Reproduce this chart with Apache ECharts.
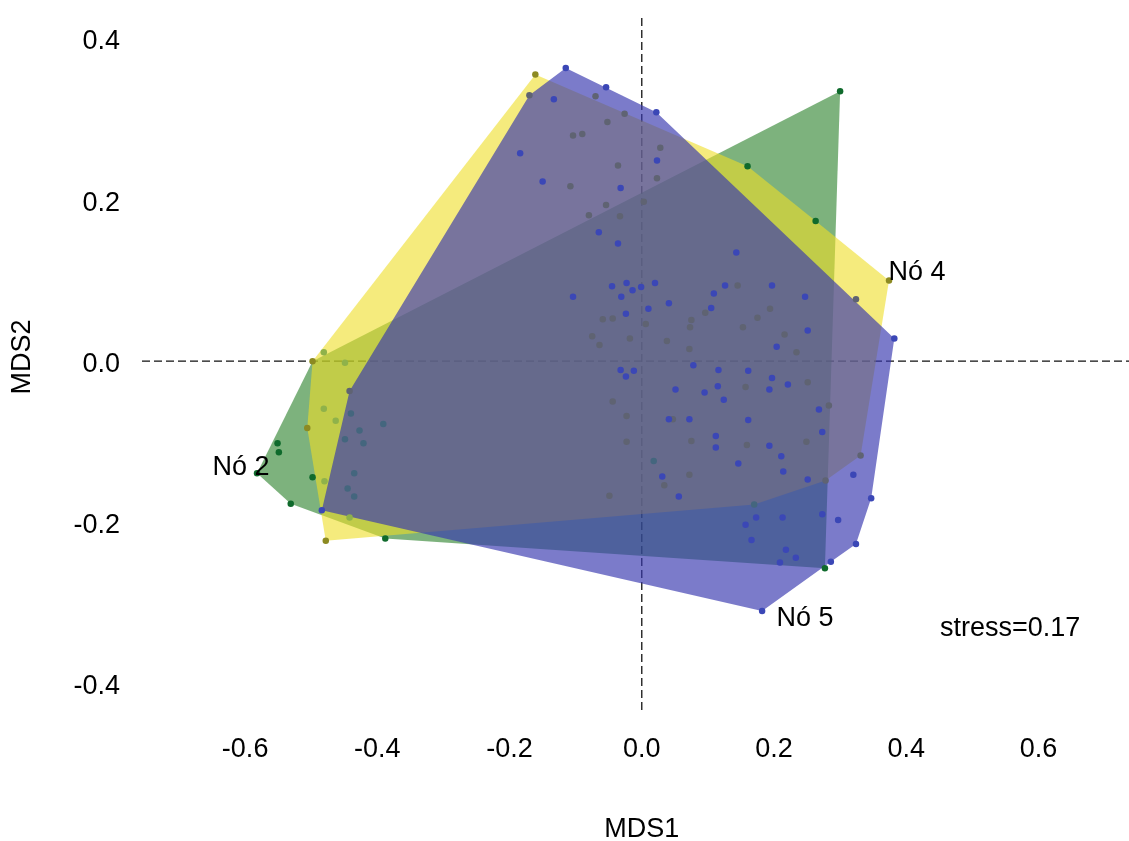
<!DOCTYPE html>
<html><head><meta charset="utf-8">
<script src="https://cdn.jsdelivr.net/npm/echarts@6/dist/echarts.min.js"></script>
<style>html,body{margin:0;padding:0;background:#fff}#c{width:1129px;height:841px}</style>
</head><body><div id="c"></div>
<script>
// ---- axes ----
const xTicks = [-0.6, -0.4, -0.2, 0.0, 0.2, 0.4, 0.6];
const yTicks = [-0.4, -0.2, 0.0, 0.2, 0.4];
const xRange = [-0.756, 0.737];
const yRange = [-0.433, 0.426];
const xTitle = 'MDS1';
const yTitle = 'MDS2';
const stressText = 'stress=0.17';

// ---- groups (hull vertices, MDS1/MDS2) ----
const groupNames = ['Nó 2', 'Nó 4', 'Nó 5'];
const hullNo2 = [[0.300,0.335],[-0.498,0.000],[-0.582,-0.139],[-0.531,-0.177],[-0.388,-0.220],[0.277,-0.257]];
const hullNo4 = [[-0.161,0.356],[0.160,0.242],[0.263,0.174],[0.374,0.100],[0.331,-0.117],[0.278,-0.148],[0.170,-0.178],[-0.478,-0.223],[-0.506,-0.083],[-0.498,0.000]];
const hullNo5 = [[-0.115,0.364],[0.022,0.309],[0.382,0.028],[0.347,-0.170],[0.324,-0.227],[0.286,-0.249],[0.182,-0.310],[-0.484,-0.185],[-0.442,-0.037],[-0.170,0.330]];
const labelAnchors = [[-0.582,-0.139],[0.374,0.100],[0.182,-0.310]];

// ---- sample points (by plotted colour) ----
const ptsBlue = [[-0.115,0.364],[-0.133,0.325],[-0.054,0.340],[0.022,0.309],[-0.184,0.258],[0.023,0.249],[-0.150,0.223],[-0.032,0.215],[-0.065,0.160],[-0.036,0.146],[0.143,0.135],[-0.045,0.093],[-0.023,0.097],[-0.014,0.088],[-0.001,0.092],[0.020,0.097],[0.109,0.084],[0.126,0.094],[0.197,0.094],[-0.104,0.080],[-0.031,0.080],[-0.024,0.059],[0.010,0.065],[0.041,0.072],[0.105,0.066],[0.204,0.018],[-0.032,-0.011],[-0.024,-0.019],[-0.012,-0.012],[0.078,-0.005],[0.116,-0.011],[0.161,-0.012],[0.197,-0.021],[0.051,-0.035],[0.095,-0.039],[0.115,-0.031],[0.193,-0.035],[0.124,-0.048],[0.041,-0.072],[0.072,-0.072],[0.161,-0.073],[0.112,-0.093],[0.112,-0.107],[0.193,-0.105],[0.146,-0.127],[0.031,-0.143],[0.056,-0.168],[0.173,-0.194],[0.157,-0.203],[0.166,-0.222],[0.247,0.080],[0.251,0.038],[0.382,0.028],[0.221,-0.029],[0.268,-0.060],[0.273,-0.088],[0.211,-0.118],[0.214,-0.137],[0.251,-0.147],[0.320,-0.141],[0.347,-0.170],[0.213,-0.194],[0.273,-0.190],[0.297,-0.197],[0.218,-0.234],[0.233,-0.244],[0.209,-0.250],[0.324,-0.227],[0.286,-0.249],[-0.484,-0.185],[0.182,-0.310]];
const ptsGray = [[-0.170,0.330],[-0.070,0.329],[-0.026,0.307],[-0.052,0.297],[-0.104,0.280],[-0.090,0.282],[0.028,0.265],[-0.036,0.243],[0.023,0.227],[-0.108,0.217],[0.003,0.198],[-0.054,0.194],[-0.080,0.181],[-0.033,0.180],[0.145,0.094],[-0.059,0.052],[-0.044,0.053],[0.006,0.046],[0.075,0.051],[0.073,0.042],[0.096,0.060],[0.175,0.054],[0.194,0.065],[0.153,0.042],[-0.075,0.031],[-0.064,0.020],[-0.018,0.028],[0.038,0.025],[0.072,0.015],[0.157,-0.032],[-0.044,-0.050],[-0.023,-0.068],[0.047,-0.072],[-0.023,-0.100],[0.075,-0.099],[0.159,-0.104],[0.034,-0.154],[0.072,-0.141],[-0.049,-0.167],[0.216,0.033],[0.234,0.011],[0.324,0.077],[0.251,-0.026],[0.283,-0.055],[0.249,-0.100],[0.278,-0.148],[0.331,-0.117],[-0.442,-0.037]];
const ptsSlate = [[-0.391,-0.078],[0.018,-0.124],[0.170,-0.178],[-0.440,-0.065],[-0.427,-0.086],[-0.449,-0.097],[-0.421,-0.102],[-0.435,-0.139],[-0.445,-0.158],[-0.435,-0.168]];
const ptsGreen = [[0.160,0.242],[-0.388,-0.220],[0.277,-0.257],[0.300,0.335],[0.263,0.174],[-0.551,-0.102],[-0.549,-0.113],[-0.582,-0.139],[-0.498,-0.144],[-0.531,-0.177]];
const ptsOlive = [[-0.161,0.356],[0.374,0.100],[-0.498,0.000],[-0.506,-0.083],[-0.478,-0.223]];
const ptsLime = [[-0.481,0.011],[-0.449,-0.002],[-0.481,-0.059],[-0.463,-0.074],[-0.480,-0.149],[-0.442,-0.194]];

const FONT = '"Liberation Sans", Arial, sans-serif';
const chart = echarts.init(document.getElementById('c'), null, {renderer: 'canvas'});

function hull(name, verts, fill, z) {
  return {
    type: 'custom', name: name, z: z, silent: true, clip: false,
    data: [0],
    renderItem: function (params, api) {
      const pts = verts.map(function (v) { return api.coord(v); });
      return { type: 'polygon', shape: { points: pts }, style: { fill: fill } };
    }
  };
}
function pts(data, color) {
  return { type: 'scatter', data: data, symbolSize: 6.5, z: 10, silent: true,
    itemStyle: { color: color, opacity: 1 } };
}
const dash = { color: '#111', width: 1.3, type: [8, 4] };
const txt = function (t, x, y, extra) {
  return Object.assign({ type: 'text', x: x, y: y, style: { text: t, font: '27px ' + FONT, fill: '#000',
    align: 'center', verticalAlign: 'middle', textAlign: 'center', textVerticalAlign: 'middle' } }, extra || {});
};

const option = {
  animation: false,
  backgroundColor: '#fff',
  grid: { left: 142, right: 0, top: 18, bottom: 131 },
  xAxis: {
    type: 'value', min: xRange[0], max: xRange[1],
    axisLine: { show: false }, axisTick: { show: false }, splitLine: { show: false },
    axisLabel: { customValues: xTicks, formatter: function (v) { return v.toFixed(1); },
      fontSize: 27, color: '#000', margin: 26, fontFamily: FONT }
  },
  yAxis: {
    type: 'value', min: yRange[0], max: yRange[1],
    axisLine: { show: false }, axisTick: { show: false }, splitLine: { show: false },
    axisLabel: { customValues: yTicks, formatter: function (v) { return '{a|' + v.toFixed(1) + '}'; },
      margin: 22,
      rich: { a: { fontSize: 27, color: '#000', fontFamily: FONT, padding: [6, 0, 0, 0] } } }
  },
  graphic: [
    txt(xTitle, 641.7, 830),
    txt(yTitle, 23, 357, { rotation: Math.PI / 2 }),
    { type: 'text', x: 940, y: 629, style: { text: stressText, font: '27px ' + FONT, fill: '#000',
      align: 'left', verticalAlign: 'middle', textAlign: 'left', textVerticalAlign: 'middle' } }
  ],
  series: [
    { type: 'line', data: [[xRange[0], 0], [xRange[1], 0]], symbol: 'none', lineStyle: dash, z: 1, silent: true },
    { type: 'line', data: [[0, yRange[0]], [0, yRange[1]]], symbol: 'none', lineStyle: dash, z: 1, silent: true },
    hull(groupNames[0], hullNo2, 'rgba(38,127,38,0.6)', 2),
    hull(groupNames[1], hullNo4, 'rgba(238,222,38,0.6)', 3),
    hull(groupNames[2], hullNo5, 'rgba(55,55,175,0.66)', 4),
    pts(ptsGray, '#5f6372'),
    pts(ptsSlate, '#44667e'),
    pts(ptsLime, '#8fb24a'),
    pts(ptsOlive, '#8c8a22'),
    pts(ptsGreen, '#0f6a2c'),
    pts(ptsBlue, '#3b47b6'),
    {
      type: 'scatter', symbolSize: 0, z: 12, silent: true,
      itemStyle: { opacity: 1 },
      data: [
        { value: labelAnchors[0].concat([groupNames[0]]), label: { offset: [-16, -6] } },
        { value: labelAnchors[1].concat([groupNames[1]]), label: { offset: [28, -8] } },
        { value: labelAnchors[2].concat([groupNames[2]]), label: { offset: [43, 8] } }
      ],
      label: { show: true, position: 'inside', formatter: function (p) { return p.value[2]; },
        fontSize: 27, color: '#000', opacity: 1, fontFamily: FONT }
    }
  ]
};
chart.setOption(option);
</script>
</body></html>
